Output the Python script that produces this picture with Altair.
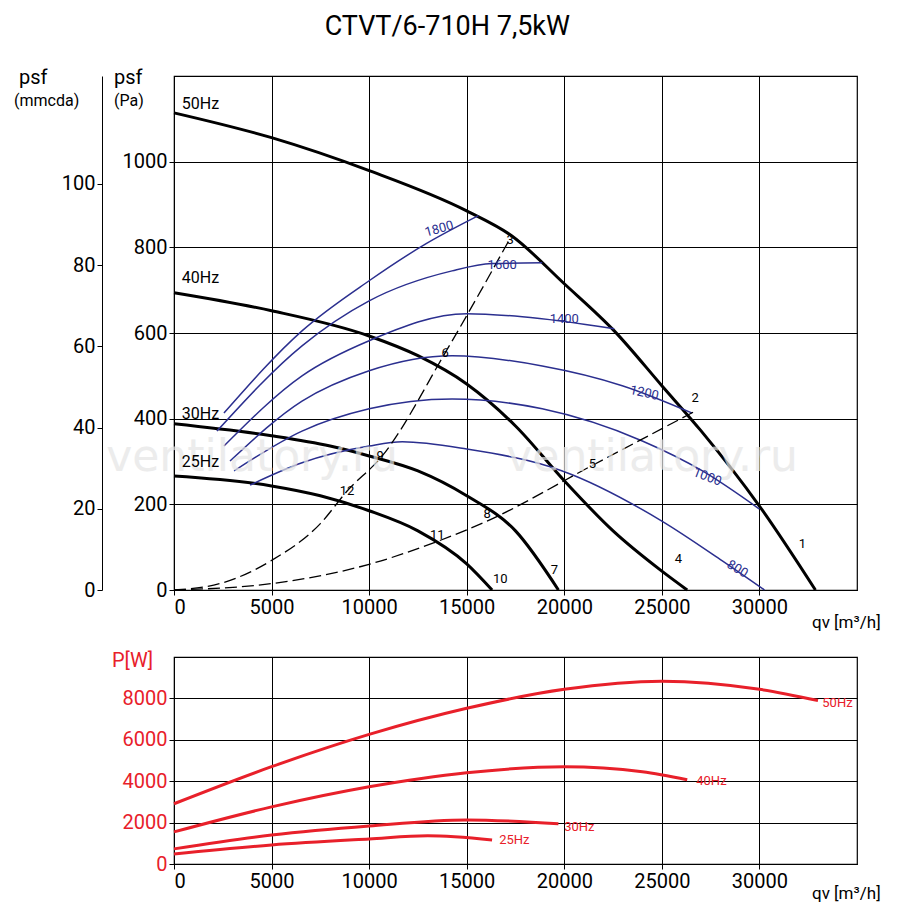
import altair as alt
import pandas as pd

# fan curves, q in m3/h, p in Pa
q50 = [0, 5000, 10000, 15000, 17300, 20000, 22560, 25000, 27000, 30000, 32870]
p50 = [1114, 1056, 979, 885, 827, 715, 605, 477, 372, 196, 0]
q40 = [0, 5000, 10000, 12500, 15000, 17500, 20000, 22500, 25000, 26300]
p40 = [694, 652, 593, 547, 481, 383, 255, 138, 44, 0]
q30 = [0, 5000, 8000, 10000, 12500, 15000, 17500, 19700]
p30 = [388, 360, 336, 313, 278, 220, 138, 0]
q25 = [0, 5000, 7500, 10000, 12500, 15000, 16300]
p25 = [266, 243, 220, 185, 138, 61, 0]

# iso lines (rpm)
iso = {
    "1800": ([2560, 6560, 10000, 12900, 15600], [413, 605, 722, 808, 874]),
    "1600": ([2200, 6560, 10000, 14250, 16300, 18870], [371, 570, 675, 745, 762, 764]),
    "1400": ([2560, 6560, 10000, 15000, 17850, 22560], [336, 500, 582, 645, 638, 610]),
    "1200": ([2870, 6560, 10000, 14250, 18870, 22970, 26560], [301, 441, 512, 547, 523, 477, 413]),
    "1000": ([3080, 6560, 10000, 14250, 18870, 24000, 27080, 30000], [278, 371, 423, 446, 423, 348, 278, 189]),
    "800": ([3900, 6560, 10000, 11700, 15000, 19900, 25000, 28100, 30260], [245, 297, 336, 346, 329, 278, 161, 68, 0]),
}
iso_lbl_q = [13590, 16820, 20000, 24100, 27330, 28870]
iso_lbl_p = [843, 759, 633, 460, 264, 49]
iso_lbl_t = ["1800", "1600", "1400", "1200", "1000", "800"]
iso_lbl_a = [340, 355, 8, 20, 28, 38]

# system curves (dashed)
qs1 = [0, 2500, 5000, 7500, 8870, 10670, 13900, 17300]
ps1 = [0, 17, 69, 155, 231, 313, 554, 827]
qs2 = [0, 5000, 10000, 13300, 16000, 21400, 26600]
ps2 = [0, 15, 60, 110, 160, 290, 415]

pt_q = [32200, 26700, 17230, 25850, 21440, 13900, 19490, 16050, 10560, 16720, 13490, 8870]
pt_p = [107, 448, 818, 72, 294, 554, 47, 178, 313, 26, 129, 231]
pt_t = [str(i) for i in range(1, 13)]

hz_q = [400, 400, 400, 400]
hz_p = [1135, 729, 411, 299]
hz_t = ["50Hz", "40Hz", "30Hz", "25Hz"]

# power curves, W
pq50 = [0, 5000, 10000, 15000, 20000, 25000, 30000, 33000]
pw50 = [2910, 4700, 6260, 7520, 8440, 8830, 8440, 7900]
pq40 = [0, 5000, 10000, 15000, 20000, 24000, 26300]
pw40 = [1550, 2760, 3730, 4410, 4700, 4460, 4070]
pq30 = [0, 5000, 10000, 15000, 19700]
pw30 = [730, 1400, 1840, 2130, 1940]
pq25 = [0, 5000, 10000, 13000, 16300]
pw25 = [485, 920, 1210, 1360, 1160]
pl_q = [34000, 27540, 20770, 17440]
pl_w = [7760, 4030, 1800, 1160]
pl_t = ["50Hz", "40Hz", "30Hz", "25Hz"]

FONT = "Roboto"
BLUE = "#2b2f8f"
RED = "#e8202a"
W = 683

def long(pairs):
    rows = []
    for name, (xs, ys) in pairs.items():
        for i, (a, b) in enumerate(zip(xs, ys)):
            rows.append({"name": name, "q": a, "v": b, "i": i})
    return pd.DataFrame(rows)

fan = long({"50": (q50, p50), "40": (q40, p40), "30": (q30, p30), "25": (q25, p25)})
isod = long(iso)
sysd = long({"s1": (qs1, ps1), "s2": (qs2, ps2)})

ax = dict(labelFontSize=20, labelColor="black", tickColor="black", domainColor="black",
          gridColor="black", labelFont=FONT, format="d", title=None)
xq = alt.X("q:Q", scale=alt.Scale(domain=[0, 35000], nice=False),
           axis=alt.Axis(values=list(range(0, 35000, 5000)), **ax))
yp = alt.Y("v:Q", scale=alt.Scale(domain=[0, 1200], nice=False),
           axis=alt.Axis(values=list(range(0, 1200, 200)), **ax))

fan_l = alt.Chart(fan).mark_line(color="black", strokeWidth=3, interpolate="monotone").encode(
    x=xq, y=yp, detail="name", order="i")
iso_l = alt.Chart(isod).mark_line(color=BLUE, strokeWidth=1.5, interpolate="monotone").encode(
    x="q:Q", y="v:Q", detail="name", order="i")
sys_l = alt.Chart(sysd).mark_line(color="black", strokeWidth=1.3, strokeDash=[12, 5], interpolate="monotone").encode(
    x="q:Q", y="v:Q", detail="name", order="i")

isolbl = pd.DataFrame({"q": iso_lbl_q, "v": iso_lbl_p, "t": iso_lbl_t, "a": iso_lbl_a})
iso_t = alt.Chart(isolbl).mark_text(color=BLUE, fontSize=13, font=FONT).encode(
    x="q:Q", y="v:Q", text="t:N", angle=alt.Angle("a:Q"))
pts = pd.DataFrame({"q": pt_q, "v": pt_p, "t": pt_t})
pt_t_l = alt.Chart(pts).mark_text(fontSize=13, font=FONT, color="black").encode(x="q:Q", y="v:Q", text="t:N")
hz = pd.DataFrame({"q": hz_q, "v": hz_p, "t": hz_t})
hz_l = alt.Chart(hz).mark_text(fontSize=16, font=FONT, align="left", color="black").encode(x="q:Q", y="v:Q", text="t:N")

wm = pd.DataFrame({"q": [4000, 24500], "v": [309, 309], "t": ["ventilatory.ru", "ventilatory.ru"]})
wm_l = alt.Chart(wm).mark_text(fontSize=44, font="DejaVu Sans", color="#e4e4e4", opacity=0.7).encode(
    x="q:Q", y="v:Q", text="t:N")

mm = alt.Chart(pd.DataFrame({"m": [0, 100]})).mark_point(opacity=0).encode(
    y=alt.Y("m:Q", scale=alt.Scale(domain=[0, 126.6], nice=False),
            axis=alt.Axis(orient="left", offset=72, values=[0, 20, 40, 60, 80, 100], grid=False, **ax)))

txt = dict(font=FONT, color="black")
titles = (
    alt.Chart(pd.DataFrame({"t": ["psf"]})).mark_text(fontSize=20, align="left", **txt).encode(
        x=alt.value(-60), y=alt.value(2), text="t:N")
    + alt.Chart(pd.DataFrame({"t": ["(Pa)"]})).mark_text(fontSize=16, align="left", **txt).encode(
        x=alt.value(-60), y=alt.value(25), text="t:N")
    + alt.Chart(pd.DataFrame({"t": ["psf"]})).mark_text(fontSize=20, align="left", **txt).encode(
        x=alt.value(-155), y=alt.value(2), text="t:N")
    + alt.Chart(pd.DataFrame({"t": ["(mmcda)"]})).mark_text(fontSize=16, align="left", **txt).encode(
        x=alt.value(-160), y=alt.value(25), text="t:N")
    + alt.Chart(pd.DataFrame({"t": ["qv [m³/h]"]})).mark_text(fontSize=17, align="left", **txt).encode(
        x=alt.value(W - 45), y=alt.value(547), text="t:N")
)

top = alt.layer(fan_l, iso_l, sys_l, wm_l, iso_t, pt_t_l, hz_l, titles).properties(width=W, height=514)
top = alt.layer(top, mm).resolve_scale(y="independent")

pwr = long({"50": (pq50, pw50), "40": (pq40, pw40), "30": (pq30, pw30), "25": (pq25, pw25)})
bax = dict(ax)
bax["labelColor"] = RED
ybot = alt.Y("v:Q", scale=alt.Scale(domain=[0, 10000], nice=False),
             axis=alt.Axis(values=[0, 2000, 4000, 6000, 8000], **bax))
p_l = alt.Chart(pwr).mark_line(color=RED, strokeWidth=3, interpolate="monotone").encode(
    x=xq, y=ybot, detail="name", order="i")
pl = pd.DataFrame({"q": pl_q, "v": pl_w, "t": pl_t})
p_t = alt.Chart(pl).mark_text(color=RED, fontSize=13, font=FONT).encode(x="q:Q", y="v:Q", text="t:N")
btitles = (
    alt.Chart(pd.DataFrame({"t": ["P[W]"]})).mark_text(fontSize=20, align="left", font=FONT, color=RED).encode(
        x=alt.value(-62), y=alt.value(4), text="t:N")
    + alt.Chart(pd.DataFrame({"t": ["qv [m³/h]"]})).mark_text(fontSize=17, align="left", **txt).encode(
        x=alt.value(W - 45), y=alt.value(237), text="t:N")
)
bottom = alt.layer(p_l, p_t, btitles).properties(width=W, height=207)

chart = alt.vconcat(top, bottom, spacing=18).properties(
    title=alt.TitleParams("CTVT/6-710H 7,5kW", fontSize=27, font=FONT, fontWeight="normal", anchor="middle",
                          offset=26)
).configure_view(stroke="black", strokeWidth=1.2).configure_axis(gridWidth=1, gridOpacity=1)

chart.save("out.html", embed_options={"renderer": "svg", "actions": False})
